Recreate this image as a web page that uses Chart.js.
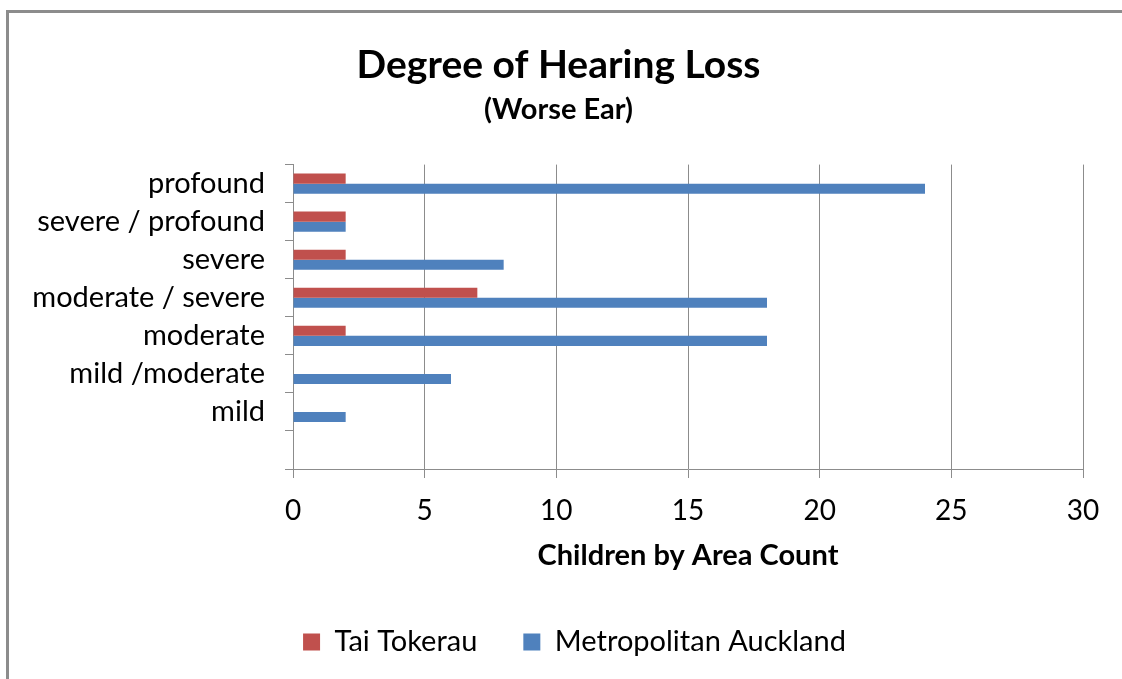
<!DOCTYPE html>
<html><head><meta charset="utf-8">
<script src="https://cdn.jsdelivr.net/npm/chart.js@4/dist/chart.umd.min.js"></script>
<style>
html,body{margin:0;padding:0;background:#fff;overflow:hidden;}
#wrap{position:relative;width:1122px;height:679px;overflow:hidden;background:#fff;}
#frame{position:absolute;left:6px;top:10px;width:1200px;height:800px;border-left:3px solid #8c8c8c;border-top:3px solid #8c8c8c;}
canvas{position:absolute;left:0;top:0;}
</style></head><body>
<div id="wrap"><div id="frame"></div><canvas id="c" width="1122" height="679"></canvas></div>
<script>
const categories = ['profound', 'severe / profound', 'severe', 'moderate / severe', 'moderate', 'mild /moderate', 'mild', ''];
const taiTokerau = [2, 2, 2, 7, 2, 0, 0, null];
const metroAuckland = [24, 2, 8, 18, 18, 6, 2, null];
const seriesNames = ['Tai Tokerau', 'Metropolitan Auckland'];
const xMin = 0, xMax = 30, xStep = 5;

const FONT = 'Lato';
const gridColor = '#8c8c8c';

// nudge the title blocks and legend horizontally to match the reference placement
const blockShift = {
  id: 'blockShift',
  afterLayout(chart) {
    chart.boxes.forEach(b => {
      if (b === chart.legend) { b.left += 22; b.right += 22; }
      else if (b.position === 'top' && !b.axis) { b.left += 6; b.right += 6; }
    });
  }
};

new Chart(document.getElementById('c'), {
  type: 'bar',
  data: {
    labels: categories,
    datasets: [
      { label: seriesNames[0], data: taiTokerau, backgroundColor: '#C0504D', borderWidth: 0 },
      { label: seriesNames[1], data: metroAuckland, backgroundColor: '#4F81BD', borderWidth: 0 }
    ]
  },
  options: {
    indexAxis: 'y',
    responsive: false,
    animation: false,
    devicePixelRatio: 1,
    barPercentage: 1,
    categoryPercentage: 0.53,
    layout: { padding: { left: 22, right: 39, top: 0, bottom: 12.5 } },
    plugins: {
      title: {
        display: true, text: 'Degree of Hearing Loss', color: '#000',
        font: { family: FONT, size: 39, weight: 'bold' },
        padding: { top: 42, bottom: 1 }
      },
      subtitle: {
        display: true, text: '(Worse Ear)', color: '#000',
        font: { family: FONT, size: 29, weight: 'bold' },
        padding: { top: 2, bottom: 38 }
      },
      legend: {
        position: 'bottom',
        labels: {
          color: '#000', font: { family: FONT, size: 29 },
          boxWidth: 17, boxHeight: 17, padding: 46
        }
      },
      tooltip: { enabled: false }
    },
    scales: {
      x: {
        min: xMin, max: xMax,
        ticks: { stepSize: xStep, color: '#000', font: { family: FONT, size: 28, lineHeight: 1 }, padding: 18.5 },
        grid: { color: gridColor, lineWidth: 1, tickLength: 9 },
        border: { color: gridColor, width: 1 },
        title: {
          display: true, text: 'Children by Area Count', color: '#000',
          font: { family: FONT, size: 29, weight: 'bold', lineHeight: 1 },
          padding: { top: -2, bottom: 11.5 }
        }
      },
      y: {
        afterFit(s) { s.width = 271; },
        ticks: { color: '#000', font: { family: FONT, size: 29 }, padding: 20, autoSkip: false },
        grid: { offset: true, drawOnChartArea: false, color: gridColor, tickLength: 8 },
        border: { color: gridColor, width: 1 }
      }
    }
  },
  plugins: [blockShift]
});
</script>
</body></html>
